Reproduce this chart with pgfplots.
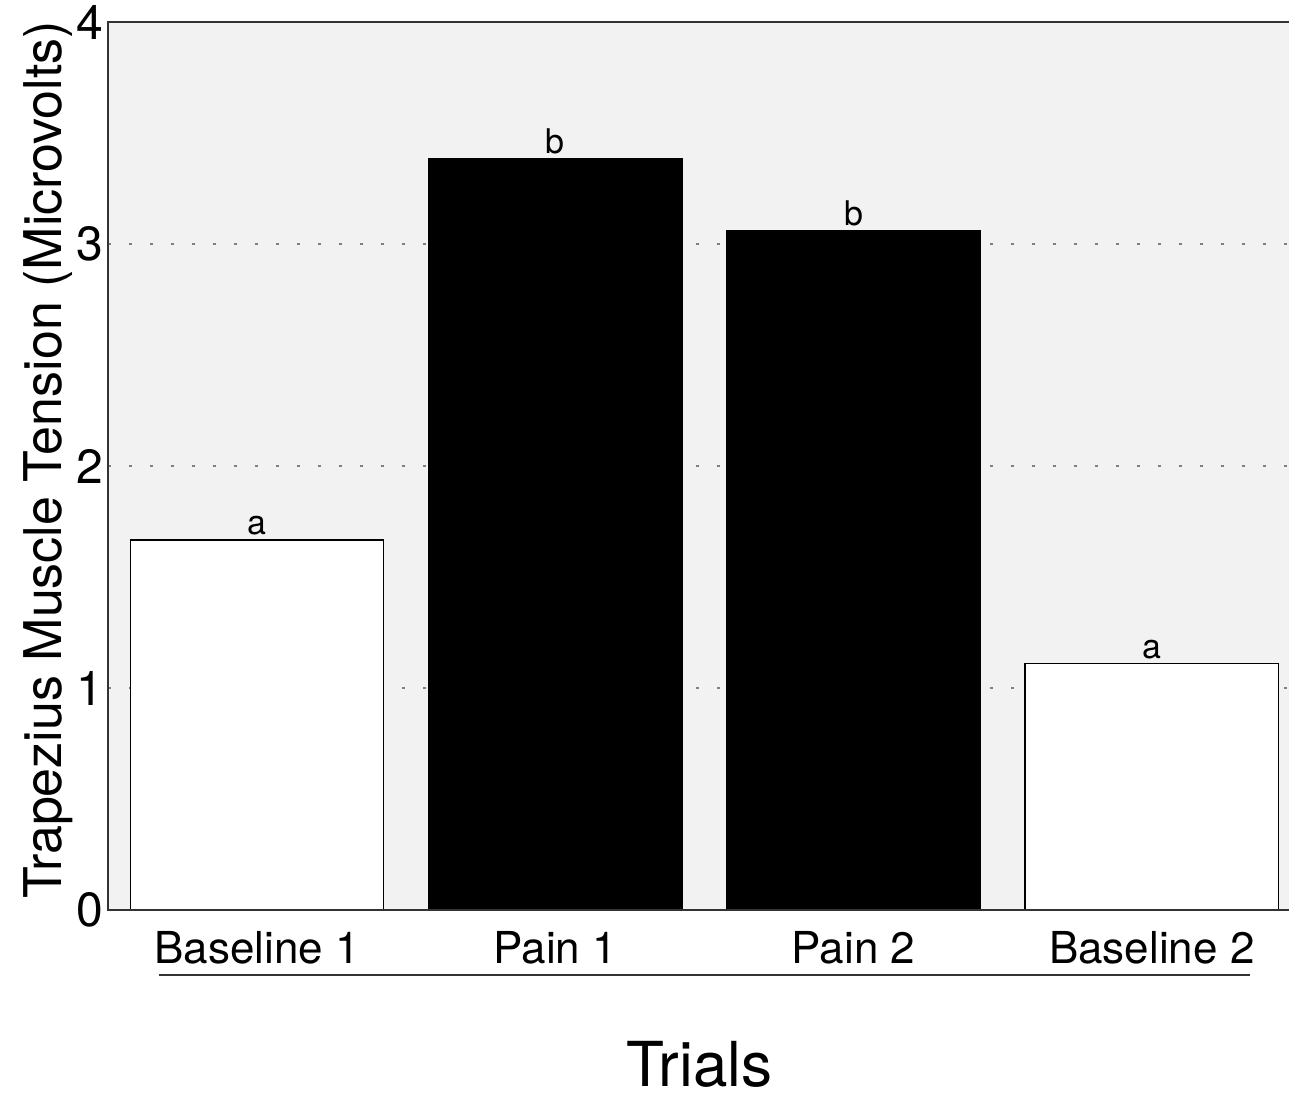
\documentclass[border=0pt]{standalone}
\usepackage{pgfplots}
\pgfplotsset{compat=1.18}
\usepackage{fontspec}
\setmainfont{TeX Gyre Heros}

\begin{document}
\begin{tikzpicture}
\begin{axis}[
  scale only axis,
  width=590.5pt, height=444pt,
  xmin=-0.5, xmax=3.46,
  ymin=0, ymax=4,
  ytick={0,1,2,3,4},
  xtick={0,1,2,3},
  xticklabels={Baseline 1, Pain 1, Pain 2, Baseline 2},
  major tick length=0pt,
  /pgf/number format/assume math mode=true,
  yticklabel style={font=\fontsize{24}{28}\selectfont, inner sep=2pt},
  xticklabel style={font=\fontsize{22}{26}\selectfont, yshift=-7pt},
  axis line style={draw=none},
  axis background/.style={fill=black!5},
  ymajorgrids,
  major grid style={gray, line width=0.8pt, dash pattern=on 1.5pt off 9pt},
  ybar, bar width=0.85, bar shift=0pt,
  point meta=explicit symbolic,
  nodes near coords,
  every node near coord/.append style={font=\fontsize{17}{20}\selectfont, black, inner sep=1pt, yshift=1pt},
  clip=false,
]
% baseline trials
\addplot[draw=black, line width=0.6pt, fill=white] coordinates {
  (0,1.667) [a]
  (3,1.11)  [a]
};
% pain trials
\addplot[draw=black, line width=0.6pt, fill=black] coordinates {
  (1,3.385) [b]
  (2,3.06)  [b]
};
% frame: left, top and bottom only
\draw[line width=0.9pt, black!80] (rel axis cs:1,1) -- (rel axis cs:0,1) -- (rel axis cs:0,0) -- (rel axis cs:1,0);
% rule under the trial names
\draw[line width=0.7pt, black!80] ([yshift=-32.5pt]axis cs:-0.33,0) -- ([yshift=-32.5pt]axis cs:3.33,0);
\node[font=\fontsize{31}{36}\selectfont] at ([yshift=-77pt]axis cs:1.483,0) {Trials};
\node[rotate=90, font=\fontsize{26}{30}\selectfont] at ([xshift=-30pt,yshift=3pt]rel axis cs:0,0.5) {Trapezius Muscle Tension (Microvolts)};
\coordinate (bl) at (rel axis cs:0,0);
\coordinate (tr) at (rel axis cs:1,1);
\end{axis}
\pgfresetboundingbox
\path ([xshift=-54pt,yshift=-95.5pt]bl) rectangle ([yshift=11pt]tr);
\end{tikzpicture}
\end{document}
